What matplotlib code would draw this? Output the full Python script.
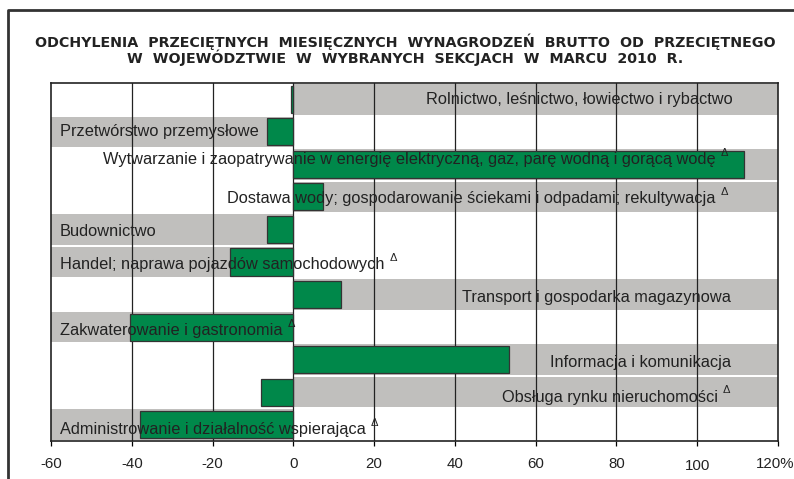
import matplotlib.pyplot as plt
from matplotlib.lines import Line2D
from matplotlib.transforms import ScaledTranslation

plt.rcParams['font.family'] = ['Liberation Sans', 'DejaVu Sans']

# data (% deviation from the voivodeship average)
categories = ['Rolnictwo, leśnictwo, łowiectwo i rybactwo',
              'Przetwórstwo przemysłowe',
              'Wytwarzanie i zaopatrywanie w energię elektryczną, gaz, parę wodną i gorącą wodę',
              'Dostawa wody; gospodarowanie ściekami i odpadami; rekultywacja',
              'Budownictwo',
              'Handel; naprawa pojazdów samochodowych',
              'Transport i gospodarka magazynowa',
              'Zakwaterowanie i gastronomia',
              'Informacja i komunikacja',
              'Obsługa rynku nieruchomości',
              'Administrowanie i działalność wspierająca']
values = [-0.6, -6.4, 111.5, 7.3, -6.4, -15.8, 11.8, -40.5, 53.5, -7.9, -38.0]
# which half the grey label band sits on, and which labels carry the delta mark
band_side = ['R', 'L', 'R', 'R', 'L', 'L', 'R', 'L', 'R', 'R', 'L']
has_delta = [False, False, True, True, False, True, False, True, False, True, True]
tick_vals = [-60, -40, -20, 0, 20, 40, 60, 80, 100, 120]
tick_labels = ['-60', '-40', '-20', '0', '20', '40', '60', '80', '100', '120%']

title = ('ODCHYLENIA  PRZECIĘTNYCH  MIESIĘCZNYCH  WYNAGRODZEŃ  BRUTTO  OD  PRZECIĘTNEGO\n'
         'W  WOJEWÓDZTWIE  W  WYBRANYCH  SEKCJACH  W  MARCU  2010  R.')

# label placement
lab_x = [108.7, -57.8, 104.5, 104.5, -57.8, -57.8, 108.4, -57.8, 108.4, 105.2, -57.8]
lab_ha = ['right', 'left', 'right', 'right', 'left', 'left', 'right', 'left', 'right', 'right', 'left']
lab_dy = [0.0, 0.0, -0.15, 0.05, 0.05, 0.08, 0.1, 0.12, 0.1, 0.15, 0.15]

fig = plt.figure(figsize=(7.94, 4.79), dpi=100)
ax = fig.add_axes([51 / 794, 38 / 479, 727 / 794, 358 / 479])

y = list(range(len(categories)))
grey = '#c0bfbd'
green = '#00884a'

# grey bands behind labels
for i in y:
    if band_side[i] == 'L':
        ax.barh(i, 60, left=-60, height=0.94, color=grey, zorder=1)
    else:
        ax.barh(i, 120, left=0, height=0.94, color=grey, zorder=1)

ax.barh(y, values, height=0.83, color=green, edgecolor='#333333', linewidth=0.9, zorder=3)

for xv in tick_vals[1:-1]:
    ax.axvline(xv, color='#222222', linewidth=0.9, zorder=2)

for i in y:
    t = ax.text(lab_x[i], i + lab_dy[i], categories[i], ha=lab_ha[i], va='center',
                fontsize=11.8, color='#222222', zorder=4)
    if has_delta[i]:
        ax.annotate('Δ', xy=(1, 0.62), xycoords=t, xytext=(3.5, 0), textcoords='offset points',
                    ha='left', va='bottom', fontsize=8, color='#222222', zorder=4)

ax.set_xlim(-60, 120)
ax.set_ylim(10.5, -0.5)
ax.set_yticks([])
ax.set_xticks(tick_vals)
ax.set_xticklabels(tick_labels, fontsize=10.8, color='#222222')
ax.tick_params(axis='x', length=3.5, width=0.9, pad=8)
for lbl in ax.get_xticklabels():
    if lbl.get_text() == '100':
        lbl.set_y(-0.007)
    if lbl.get_text() == '120%':
        lbl.set_transform(lbl.get_transform() + ScaledTranslation(-2 / 72, 0, fig.dpi_scale_trans))
for s in ax.spines.values():
    s.set_linewidth(1.2)
    s.set_color('#222222')

fig.text(0.51, 1 - 50 / 479, title, ha='center', va='center', fontsize=10.3,
         family='DejaVu Sans', fontweight='bold', color='#222222', linespacing=1.0)

# outer frame (cut off at right and bottom)
fig.add_artist(Line2D([8 / 794, 8 / 794, 1.0], [0.0, 1 - 10 / 479, 1 - 10 / 479],
                      transform=fig.transFigure, color='#333333', linewidth=2))

fig.savefig('out.png', dpi=100)
